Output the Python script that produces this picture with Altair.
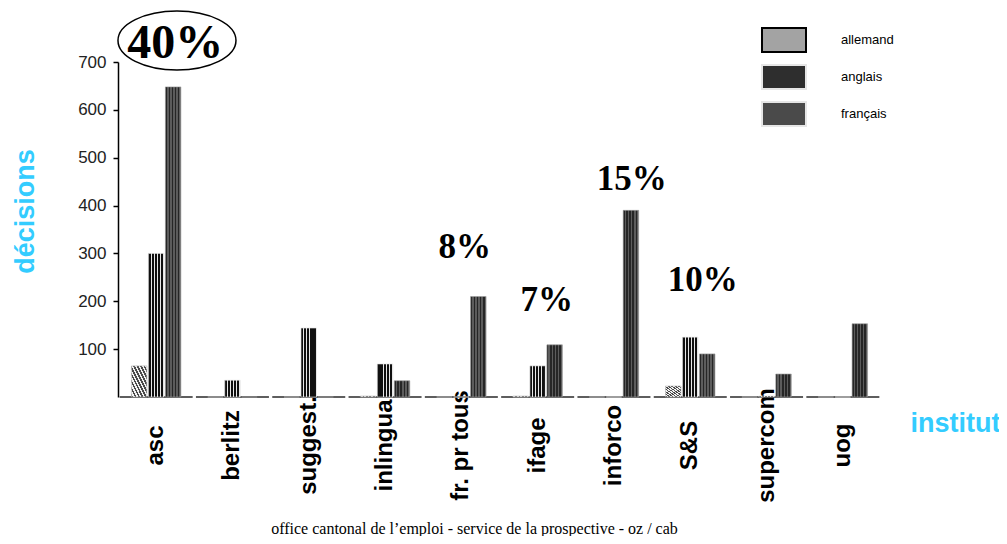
import altair as alt
import pandas as pd

# ---------------- data ----------------
instituts = ["asc", "berlitz", "suggest.", "inlingua", "fr. pr tous",
             "ifage", "inforco", "S&S", "supercom", "uog"]
langues = ["allemand", "anglais", "français"]
allemand = [65, 0, 0, 2, 0, 2, 0, 23, 0, 0]
anglais = [300, 35, 144, 69, 0, 65, 0, 125, 2, 0]
francais = [648, 0, 0, 34, 210, 109, 390, 90, 48, 153]

ann_instituts = ["asc", "fr. pr tous", "ifage", "inforco", "S&S"]
ann_textes = ["40%", "8%", "7%", "15%", "10%"]
ann_niveaux = [737, 313, 203, 455, 244]
ellipse_niveau = 745

y_ticks = [100, 200, 300, 400, 500, 600, 700]
footer = "office cantonal de l\u2019emploi - service de la prospective - oz / cab"

# ---------------- styling (positions inside bands) ----------------
ann_band = [0.75, 0.546, 0.62, 0.734, 0.664]
ann_sizes = [48, 35, 35, 35, 35]
ellipse_band = 0.773

rows = []
for lang, vals in zip(langues, [allemand, anglais, francais]):
    for inst, v in zip(instituts, vals):
        rows.append({"institut": inst, "langue": lang, "valeur": v})
df = pd.DataFrame(rows)


def stripes(c1, c2, n, frac, x1, y1, x2, y2):
    stops = []
    for i in range(n):
        a = i / n
        b = (i + frac) / n
        c = (i + 1) / n
        stops += [{"offset": a, "color": c1}, {"offset": b, "color": c1},
                  {"offset": b, "color": c2}, {"offset": c, "color": c2}]
    return {"gradient": "linear", "stops": stops,
            "x1": x1, "y1": y1, "x2": x2, "y2": y2}


fills = {
    "allemand": stripes("#4a4a4a", "#f2f2f2", 9, 0.5, 0, 1, 1, 0),
    "anglais": stripes("#101010", "#e8e8e8", 5, 0.74, 0, 0, 1, 0),
    "français": stripes("#262626", "#5c5c5c", 5, 0.5, 0, 0, 1, 0),
}
strokes = {"allemand": "#bbbbbb", "anglais": "#dddddd", "français": "#9a9a9a"}

CYAN = "#33ccff"

x_axis = alt.Axis(
    title="institut", domain=False, ticks=False,
    labelAngle=270, labelAlign="center", labelBaseline="middle",
    labelFont="Liberation Sans", labelFontWeight="bold", labelFontSize=24,
    labelColor="black", labelPadding=48,
    titleFont="Liberation Sans", titleFontWeight="bold", titleFontSize=27,
    titleColor=CYAN, titleX=792, titleY=34, titleAlign="left",
    titleBaseline="alphabetic", titleAngle=0,
)
y_axis = alt.Axis(
    title="décisions", values=y_ticks, grid=False,
    domainColor="black", domainWidth=1.5, tickColor="black", tickWidth=1.5,
    tickSize=5, labelPadding=7,
    labelFont="Liberation Sans", labelFontSize=17, labelColor="#222222",
    titleFont="Liberation Sans", titleFontWeight="bold", titleFontSize=27,
    titleColor=CYAN, titleAngle=270, titleX=-85, titleY=149,
    titleBaseline="alphabetic", titleAlign="center",
)

x_scale = alt.Scale(paddingInner=0, paddingOuter=0)
y_scale = alt.Scale(domain=[0, 700], nice=False)


def X(band=None):
    if band is None:
        return alt.X("institut:N", sort=instituts, scale=x_scale, axis=x_axis)
    return alt.X("institut:N", sort=instituts, scale=x_scale, axis=x_axis,
                 bandPosition=band)


def Y(field="valeur:Q"):
    return alt.Y(field, scale=y_scale, axis=y_axis)


xoff = alt.XOffset("langue:N", sort=langues,
                   scale=alt.Scale(domain=langues, paddingInner=0.09,
                                   paddingOuter=0.79))

base = alt.Chart(df)

baseline = base.mark_tick(orient="horizontal", size=73, thickness=2,
                          color="#1a1a1a").encode(
    x=X(), y=alt.Y("zero:Q", scale=y_scale, axis=y_axis)
).transform_calculate(zero="0").transform_filter("datum.langue == 'allemand'")

layers = [baseline]
for lang in langues:
    layers.append(
        base.transform_filter(alt.datum.langue == lang)
        .mark_bar(color=fills[lang], stroke=strokes[lang], strokeWidth=0.6)
        .encode(x=X(), xOffset=xoff, y=Y())
    )


def legend_spec():
    return alt.Legend(
        title=None, orient="none", legendX=645, legendY=-43,
        symbolType="M-1.1,-0.6H1.1V0.6H-1.1Z", symbolSize=1600,
        symbolOpacity=1, symbolStrokeWidth=2,
        labelFont="Liberation Sans", labelFontSize=13, labelColor="black",
        labelOffset=36, rowPadding=-6, padding=0,
    )


legend_layer = base.mark_bar(opacity=0).encode(
    x=X(), xOffset=xoff, y=Y(),
    color=alt.Color(
        "langue:N", sort=langues,
        scale=alt.Scale(domain=langues, range=["#a3a3a3", "#2e2e2e", "#4a4a4a"]),
        legend=legend_spec(),
    ),
    stroke=alt.Stroke(
        "langue:N", sort=langues,
        scale=alt.Scale(domain=langues, range=["#000000", "#e6e6e6", "#e6e6e6"]),
        legend=legend_spec(),
    ),
)
layers.append(legend_layer)

for inst, txt, lvl, band, fs in zip(ann_instituts, ann_textes, ann_niveaux,
                                    ann_band, ann_sizes):
    d = pd.DataFrame({"institut": [inst], "texte": [txt], "niveau": [lvl]})
    layers.append(
        alt.Chart(d).mark_text(font="Liberation Serif", fontWeight="bold",
                               fontSize=fs, color="black", baseline="middle",
                               align="center").encode(
            x=X(band), y=Y("niveau:Q"), text="texte:N")
    )

d_ell = pd.DataFrame({"institut": [instituts[0]], "niveau": [ellipse_niveau]})
ellipse = alt.Chart(d_ell).mark_point(
    shape="M-1,0A1,0.5,0,1,0,1,0A1,0.5,0,1,0,-1,0Z", size=13924,
    filled=False, stroke="black", strokeWidth=1.5, opacity=1,
).encode(x=X(ellipse_band), y=Y("niveau:Q"))
layers.append(ellipse)

chart = alt.layer(*layers).properties(
    width=763, height=335,
    padding={"left": 110, "right": 118, "top": 54, "bottom": 139},
    autosize=alt.AutoSizeParams(type="none"),
    title=alt.TitleParams(text=footer, orient="bottom", anchor="middle",
                          font="Liberation Serif", fontSize=16,
                          fontWeight="normal", color="black", dx=-25,
                          offset=19),
).configure_view(strokeWidth=0)

chart.save("out.html", embed_options={"renderer": "svg", "actions": False})
